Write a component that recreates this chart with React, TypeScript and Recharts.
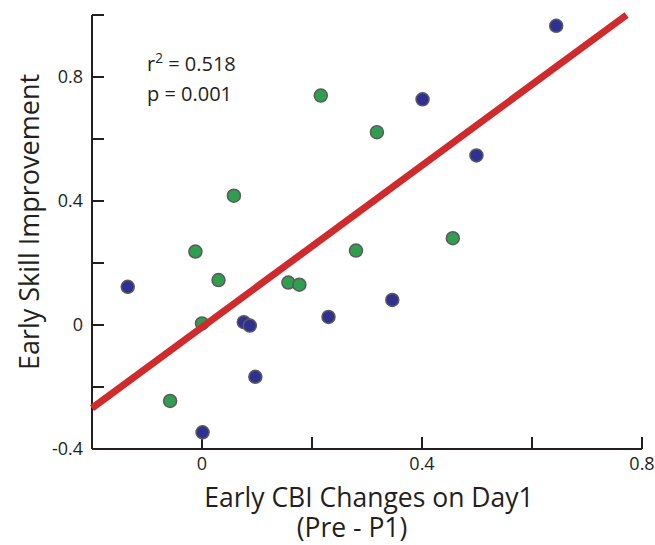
import { ScatterChart, Scatter, XAxis, YAxis } from "recharts";

// values
const greenPoints = [
  { x: -0.012, y: 0.237 },
  { x: 0.058, y: 0.417 },
  { x: 0.216, y: 0.74 },
  { x: 0.318, y: 0.622 },
  { x: 0.03, y: 0.145 },
  { x: 0.0, y: 0.005 },
  { x: -0.058, y: -0.245 },
  { x: 0.157, y: 0.137 },
  { x: 0.177, y: 0.13 },
  { x: 0.28, y: 0.24 },
  { x: 0.456, y: 0.28 },
];

const bluePoints = [
  { x: 0.401, y: 0.728 },
  { x: 0.499, y: 0.547 },
  { x: 0.644, y: 0.965 },
  { x: -0.135, y: 0.123 },
  { x: 0.076, y: 0.009 },
  { x: 0.087, y: -0.002 },
  { x: 0.097, y: -0.167 },
  { x: 0.001, y: -0.346 },
  { x: 0.346, y: 0.081 },
  { x: 0.23, y: 0.026 },
];

// fitted line end points
const fitLine = [
  { x: -0.2, y: -0.268 },
  { x: 0.772, y: 1.0 },
];

const xTicks = [0, 0.2, 0.4, 0.6, 0.8];
const xTickLabels = [0, 0.4, 0.8];
const yTicks = [-0.4, -0.2, 0, 0.2, 0.4, 0.6, 0.8, 1.0];
const yTickLabels = [-0.4, 0, 0.4, 0.8];

const FONT = "'Open Sans', sans-serif";
const INK = "#231f20";

const labelIf = (labels: number[]) => (v: number) =>
  labels.some((l) => Math.abs(l - v) < 1e-9) ? String(v) : "";

const dot = (fill: string) => (props: any) => (
  <circle cx={props.cx} cy={props.cy} r={6.5} fill={fill} stroke="#5b5b5b" strokeWidth={1.5} />
);

export default function App() {
  return (
    <div style={{ position: "absolute", left: 0, top: 0, width: 655, height: 545, fontFamily: FONT }}>
      <ScatterChart width={655} height={545} margin={{ top: 15, right: 13, left: 0, bottom: 0 }}>
        <XAxis
          type="number"
          dataKey="x"
          domain={[-0.2, 0.8]}
          ticks={xTicks}
          interval={0}
          height={96}
          tickSize={-12}
          tickMargin={20}
          tickFormatter={labelIf(xTickLabels)}
          tick={{ fontSize: 18, fill: INK, fontFamily: FONT }}
          tickLine={{ stroke: INK, strokeWidth: 2 }}
          axisLine={{ stroke: INK, strokeWidth: 2 }}
          label={(p: any) => {
            const vb = p.viewBox;
            return (
              <g fontFamily={FONT} fontSize={26.5} fill={INK}>
                <text x={369} y={vb.y + 58} textAnchor="middle" fill={INK}>
                  Early CBI Changes on Day1
                </text>
                <text x={352} y={vb.y + 88} textAnchor="middle" fill={INK}>
                  (Pre - P1)
                </text>
              </g>
            );
          }}
        />
        <YAxis
          type="number"
          dataKey="y"
          domain={[-0.4, 1.0]}
          ticks={yTicks}
          interval={0}
          width={92}
          tickSize={-12}
          tickMargin={21}
          tickFormatter={labelIf(yTickLabels)}
          tick={{ fontSize: 18, fill: INK, fontFamily: FONT }}
          tickLine={{ stroke: INK, strokeWidth: 2 }}
          axisLine={{ stroke: INK, strokeWidth: 2 }}
          label={() => (
            <text
              x={39}
              y={222}
              transform="rotate(-90 39 222)"
              textAnchor="middle"
              fontFamily={FONT}
              fontSize={27}
              fill={INK}
            >
              Early Skill Improvement
            </text>
          )}
        />
        <Scatter data={bluePoints} shape={dot("#2e3192")} isAnimationActive={false} />
        <Scatter data={greenPoints} shape={dot("#2f9e4f")} isAnimationActive={false} />
        <Scatter
          data={fitLine}
          line={{ stroke: "#cf2a2c", strokeWidth: 7 }}
          shape={() => <g />}
          isAnimationActive={false}
        />
      </ScatterChart>
      <div
        style={{
          position: "absolute",
          left: 147,
          top: 50,
          fontSize: 20,
          lineHeight: "27.5px",
          color: INK,
          whiteSpace: "nowrap",
        }}
      >
        <div>
          r<sup style={{ fontSize: "0.68em", verticalAlign: "baseline", position: "relative", top: "-0.6em" }}>2</sup> = 0.518
        </div>
        <div>p = 0.001</div>
      </div>
    </div>
  );
}
